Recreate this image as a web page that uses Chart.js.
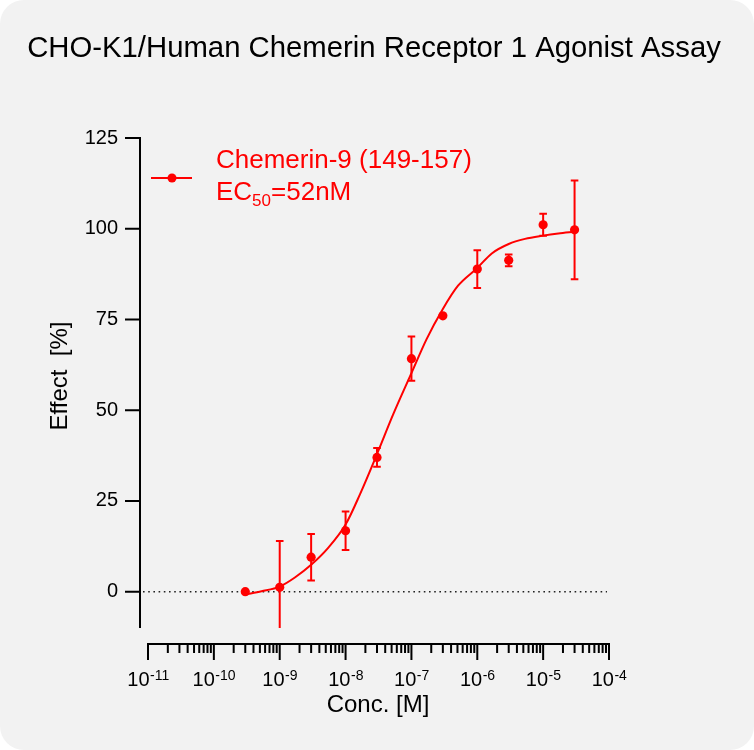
<!DOCTYPE html>
<html>
<head>
<meta charset="utf-8">
<script src="https://cdn.jsdelivr.net/npm/chart.js@4.4.1/dist/chart.umd.min.js"></script>
<style>
  html, body { margin: 0; padding: 0; background: #ffffff; }
  canvas { display: block; }
</style>
</head>
<body>
<canvas id="c" width="754" height="750"></canvas>
<script>
// ---- data ----
const concentrations = [3e-10, 1e-9, 3e-9, 1e-8, 3e-8, 1e-7, 3e-7, 1e-6, 3e-6, 1e-5, 3e-5];
const effectMean     = [0.0, 1.2, 9.5, 16.8, 37.0, 64.2, 76.0, 88.9, 91.3, 101.1, 99.7];
const effectSD       = [0.0, 12.8, 6.4, 5.3, 2.6, 6.1, 0.0, 5.2, 1.6, 3.0, 13.6];

// fitted curve
const curveConc   = [3e-10, 5.3e-10, 1e-9, 1.7e-9, 3e-9, 5.4e-9, 1e-8, 1.66e-8, 3e-8, 5.3e-8,
                     1e-7, 1.7e-7, 3e-7, 5.1e-7, 1e-6, 1.66e-6, 3e-6, 5.3e-6, 1e-5, 1.7e-5, 3e-5];
const curveEffect = [-0.8, 0.1, 1.4, 3.9, 7.4, 12.0, 18.5, 26.9, 37.9, 48.9,
                     60.2, 69.6, 77.9, 84.3, 89.2, 93.2, 95.8, 97.2, 98.1, 98.7, 99.2];

const yTicks = [0, 25, 50, 75, 100, 125];
const xDecadeExponents = [-11, -10, -9, -8, -7, -6, -5, -4];
const minorMultipliers = [2, 3, 4, 5, 6, 7, 8, 9];

const titleText = 'CHO-K1/Human Chemerin Receptor 1 Agonist Assay';
const xTitle = 'Conc. [M]';
const yTitle = 'Effect  [%]';
const seriesName = 'Chemerin-9 (149-157)';
const ecPrefix = 'EC';
const ecSub = '50';
const ecSuffix = '=52nM';

const RED = '#ff0000';
const FONT = '"Liberation Sans", Arial, sans-serif';

const bgPlugin = {
  id: 'bg',
  beforeDraw(chart) {
    const ctx = chart.ctx;
    ctx.save();
    ctx.fillStyle = '#ffffff';
    ctx.fillRect(0, 0, chart.width, chart.height);
    ctx.fillStyle = '#f2f2f2';
    ctx.beginPath();
    ctx.roundRect(0, 0, chart.width, chart.height, 24);
    ctx.fill();
    ctx.restore();
  }
};

const decoPlugin = {
  id: 'deco',
  beforeDatasetsDraw(chart) {
    const ctx = chart.ctx;
    const xs = chart.scales.x, ys = chart.scales.y;
    const y0 = ys.getPixelForValue(0);
    ctx.save();
    ctx.strokeStyle = '#222';
    ctx.lineWidth = 1.6;
    ctx.setLineDash([1.6, 3.6]);
    ctx.beginPath();
    ctx.moveTo(xs.left - 5, y0);
    ctx.lineTo(xs.right - 2, y0);
    ctx.stroke();
    ctx.restore();
  },
  afterDatasetsDraw(chart) {
    const ctx = chart.ctx;
    const xs = chart.scales.x, ys = chart.scales.y;
    ctx.save();
    ctx.strokeStyle = RED;
    ctx.lineWidth = 2;
    const cap = 3.8;
    for (let i = 0; i < concentrations.length; i++) {
      if (!effectSD[i]) continue;
      const px = xs.getPixelForValue(concentrations[i]);
      const hiV = effectMean[i] + effectSD[i];
      const loV = effectMean[i] - effectSD[i];
      const hiC = Math.min(hiV, ys.max), loC = Math.max(loV, ys.min);
      const pyHi = ys.getPixelForValue(hiC), pyLo = ys.getPixelForValue(loC);
      ctx.beginPath();
      ctx.moveTo(px, pyHi); ctx.lineTo(px, pyLo);
      if (hiV === hiC) { ctx.moveTo(px - cap, pyHi); ctx.lineTo(px + cap, pyHi); }
      if (loV === loC) { ctx.moveTo(px - cap, pyLo); ctx.lineTo(px + cap, pyLo); }
      ctx.stroke();
    }
    ctx.restore();
  },
  afterDraw(chart) {
    const ctx = chart.ctx;
    const xs = chart.scales.x, ys = chart.scales.y;
    const area = chart.chartArea;
    ctx.save();
    ctx.strokeStyle = '#000';
    ctx.fillStyle = '#000';
    ctx.lineWidth = 2;
    ctx.lineCap = 'butt';
    // y axis (detached to the left)
    const axX = area.left - 8;
    ctx.beginPath();
    ctx.moveTo(axX, ys.getPixelForValue(ys.max) - 1);
    ctx.lineTo(axX, ys.getPixelForValue(ys.min));
    yTicks.forEach(v => {
      const py = ys.getPixelForValue(v);
      ctx.moveTo(axX - 15, py); ctx.lineTo(axX + 1, py);
    });
    ctx.stroke();
    // x axis (detached below)
    const axY = area.bottom + 16;
    ctx.beginPath();
    ctx.moveTo(xs.getPixelForValue(xs.min) - 1, axY);
    ctx.lineTo(xs.getPixelForValue(xs.max) + 1, axY);
    xDecadeExponents.forEach((e, k) => {
      const v = Math.pow(10, e);
      const px = xs.getPixelForValue(v);
      ctx.moveTo(px, axY - 1); ctx.lineTo(px, axY + 16);
      if (k < xDecadeExponents.length - 1) {
        minorMultipliers.forEach(m => {
          const mx = xs.getPixelForValue(m * v);
          ctx.moveTo(mx, axY - 1); ctx.lineTo(mx, axY + 9);
        });
      }
    });
    ctx.stroke();
    // x tick labels with superscripts
    ctx.textBaseline = 'alphabetic';
    ctx.textAlign = 'left';
    xDecadeExponents.forEach(e => {
      const px = xs.getPixelForValue(Math.pow(10, e));
      ctx.font = '20px ' + FONT;
      const w1 = ctx.measureText('10').width;
      ctx.font = '14px ' + FONT;
      const sup = String(e);
      const w2 = ctx.measureText(sup).width;
      const sx = px - (w1 + w2) / 2;
      ctx.font = '20px ' + FONT;
      ctx.fillText('10', sx, 686);
      ctx.font = '14px ' + FONT;
      ctx.fillText(sup, sx + w1 + 0.5, 680);
    });
    // axis titles
    ctx.font = '24px ' + FONT;
    ctx.textAlign = 'center';
    ctx.fillText(xTitle, 378, 712);
    ctx.save();
    ctx.translate(67, 376);
    ctx.rotate(-Math.PI / 2);
    ctx.fillText(yTitle, 0, 0);
    ctx.restore();
    // chart title
    ctx.font = '29.3px ' + FONT;
    ctx.textAlign = 'center';
    ctx.fillText(titleText, 374, 57);
    // legend
    ctx.strokeStyle = RED;
    ctx.fillStyle = RED;
    ctx.lineWidth = 2;
    ctx.beginPath();
    ctx.moveTo(151, 178); ctx.lineTo(192, 178);
    ctx.stroke();
    ctx.beginPath();
    ctx.arc(172, 178, 4.5, 0, Math.PI * 2);
    ctx.fill();
    ctx.textAlign = 'left';
    ctx.font = '26px ' + FONT;
    ctx.fillText(seriesName, 216, 168);
    let tx = 216;
    ctx.fillText(ecPrefix, tx, 200);
    tx += ctx.measureText(ecPrefix).width;
    ctx.font = '17px ' + FONT;
    ctx.fillText(ecSub, tx, 206);
    tx += ctx.measureText(ecSub).width;
    ctx.font = '26px ' + FONT;
    ctx.fillText(ecSuffix, tx, 200);
    ctx.restore();
  }
};

new Chart(document.getElementById('c'), {
  data: {
    datasets: [
      {
        type: 'line',
        data: curveConc.map((c, i) => ({ x: c, y: curveEffect[i] })),
        borderColor: RED,
        borderWidth: 2,
        pointRadius: 0,
        fill: false,
        cubicInterpolationMode: 'monotone',
        order: 2
      },
      {
        type: 'scatter',
        data: concentrations.map((c, i) => ({ x: c, y: effectMean[i] })),
        backgroundColor: RED,
        borderColor: RED,
        borderWidth: 0,
        pointRadius: 4.6,
        order: 1
      }
    ]
  },
  options: {
    responsive: false,
    animation: false,
    devicePixelRatio: 1,
    layout: { padding: { top: 138, right: 145, left: 0, bottom: 0 } },
    plugins: { legend: { display: false }, tooltip: { enabled: false }, title: { display: false } },
    scales: {
      x: {
        type: 'logarithmic',
        min: 1e-11,
        max: 1e-4,
        grid: { display: false, drawTicks: false },
        border: { display: false },
        ticks: { display: false },
        afterFit(s) { s.height = 122; }
      },
      y: {
        type: 'linear',
        min: -10,
        max: 125,
        grid: { display: false, drawTicks: false },
        border: { display: false },
        ticks: { color: '#000', padding: 30, font: { size: 20, family: FONT } },
        afterBuildTicks(s) { s.ticks = yTicks.map(v => ({ value: v })); },
        afterFit(s) { s.width = 148; }
      }
    }
  },
  plugins: [bgPlugin, decoPlugin]
});
</script>
</body>
</html>
